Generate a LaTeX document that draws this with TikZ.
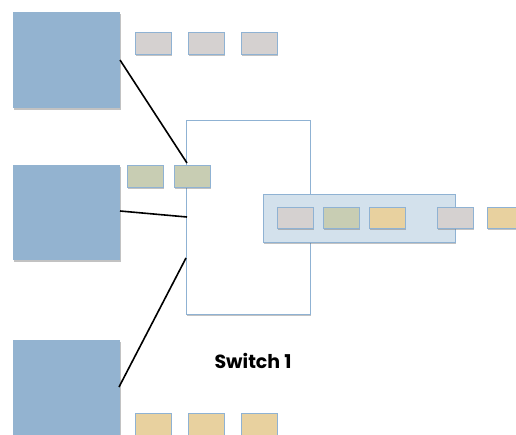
\documentclass[tikz,border=0pt]{standalone}
\usepackage{fontspec}
\setmainfont{Poppins}
\usetikzlibrary{shadows}
\definecolor{hostblue}{HTML}{93B3D0}
\definecolor{edgeblue}{HTML}{8FB2D3}
\definecolor{pktgray}{HTML}{D5D1D0}
\definecolor{pktgreen}{HTML}{C8CDB3}
\definecolor{pktyellow}{HTML}{E8D19F}
\definecolor{queuefill}{HTML}{D3E1EC}
\tikzset{
  soft/.style={drop shadow={shadow xshift=0.8pt, shadow yshift=-1.8pt, opacity=0.4, fill=black!60}},
  host/.style={fill=hostblue, draw=none, soft},
  pkt/.style={draw=edgeblue, line width=0.8pt, soft},
  gray pkt/.style={pkt, fill=pktgray},
  green pkt/.style={pkt, fill=pktgreen},
  yellow pkt/.style={pkt, fill=pktyellow},
  switchbox/.style={draw=edgeblue, line width=1pt, fill=white, soft},
  queue/.style={draw=edgeblue, line width=0.9pt, fill=queuefill, soft},
  link/.style={black, line width=1.6pt},
}
\begin{document}
\begin{tikzpicture}[x=1pt, y=-1pt]
\useasboundingbox (0,0) rectangle (516,434);

% hosts
\path[host] (13,12) rectangle (120,108);
\coordinate (h1) at (120,60);
\path[host] (13,165) rectangle (120,260);
\coordinate (h2) at (120,211);
\path[host] (13,340) rectangle (120,440);
\coordinate (h3) at (119,387);

% switch
\path[switchbox] (186,120) rectangle (310,314);
\coordinate (s1) at (187,163);
\coordinate (s2) at (187,217);
\coordinate (s3) at (186,258);

% links
\draw[link] (h1) -- (s1);
\draw[link] (h2) -- (s2);
\draw[link] (h3) -- (s3);

% packets from host 1
\path[gray pkt] (135,32) rectangle (171,54);
\path[gray pkt] (188,32) rectangle (224,54);
\path[gray pkt] (241,32) rectangle (277,54);

% packets from host 2
\path[green pkt] (127,165) rectangle (163,187);
\path[green pkt] (174,165) rectangle (210,187);

% packets from host 3
\path[yellow pkt] (135,413) rectangle (171,440);
\path[yellow pkt] (188,413) rectangle (224,440);
\path[yellow pkt] (241,413) rectangle (277,440);

% output queue
\path[queue] (263,194) rectangle (455,242);
\path[gray pkt] (277,207) rectangle (313,228);
\path[green pkt] (323,207) rectangle (359,228);
\path[yellow pkt] (369,207) rectangle (405,228);
\path[gray pkt] (437,207) rectangle (473,228);
\path[yellow pkt] (487,207) rectangle (523,228);

\node[font=\fontsize{19}{22}\selectfont\bfseries] (label) at (253,361) {Switch 1};
\end{tikzpicture}
\end{document}
